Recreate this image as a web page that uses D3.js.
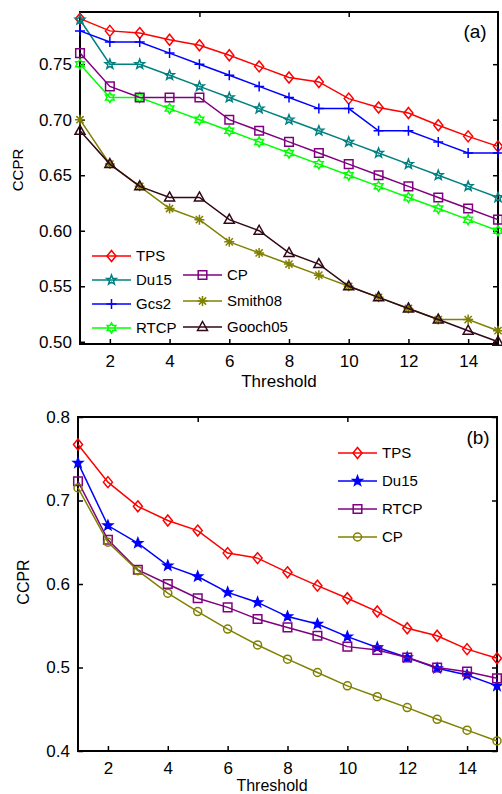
<!DOCTYPE html>
<html>
<head>
<meta charset="utf-8">
<script src="https://cdn.jsdelivr.net/npm/d3@7"></script>
<style>
  body { margin: 0; background: #fff; }
  svg { display: block; font-family: "Liberation Sans", Arial, sans-serif; }
</style>
</head>
<body>
<svg id="chart" width="502" height="794"></svg>
<script>
// threshold values (x) shared by both panels
var thresholds = [1, 2, 3, 4, 5, 6, 7, 8, 9, 10, 11, 12, 13, 14, 15];

// panel (a)
var tpsA     = [0.791, 0.780, 0.778, 0.772, 0.767, 0.758, 0.748, 0.738, 0.734, 0.719, 0.711, 0.706, 0.695, 0.685, 0.676];
var du15A    = [0.79, 0.75, 0.75, 0.74, 0.73, 0.72, 0.71, 0.70, 0.69, 0.68, 0.67, 0.66, 0.65, 0.64, 0.63];
var gcs2A    = [0.78, 0.77, 0.77, 0.76, 0.75, 0.74, 0.73, 0.72, 0.71, 0.71, 0.69, 0.69, 0.68, 0.67, 0.67];
var rtcpA    = [0.75, 0.72, 0.72, 0.71, 0.70, 0.69, 0.68, 0.67, 0.66, 0.65, 0.64, 0.63, 0.62, 0.61, 0.60];
var cpA      = [0.76, 0.73, 0.72, 0.72, 0.72, 0.70, 0.69, 0.68, 0.67, 0.66, 0.65, 0.64, 0.63, 0.62, 0.61];
var smith08A = [0.70, 0.66, 0.64, 0.62, 0.61, 0.59, 0.58, 0.57, 0.56, 0.55, 0.54, 0.53, 0.52, 0.52, 0.51];
var gooch05A = [0.69, 0.66, 0.64, 0.63, 0.63, 0.61, 0.60, 0.58, 0.57, 0.55, 0.54, 0.53, 0.52, 0.51, 0.50];
var yTicksA  = [0.50, 0.55, 0.60, 0.65, 0.70, 0.75];

// panel (b)
var tpsB  = [0.767, 0.722, 0.693, 0.676, 0.664, 0.637, 0.631, 0.614, 0.598, 0.583, 0.567, 0.547, 0.538, 0.522, 0.511];
var du15B = [0.745, 0.670, 0.649, 0.622, 0.609, 0.590, 0.578, 0.561, 0.552, 0.537, 0.524, 0.512, 0.499, 0.491, 0.478];
var rtcpB = [0.723, 0.653, 0.617, 0.600, 0.583, 0.572, 0.558, 0.548, 0.538, 0.525, 0.521, 0.512, 0.500, 0.495, 0.487];
var cpB   = [0.715, 0.650, 0.616, 0.589, 0.567, 0.546, 0.527, 0.510, 0.494, 0.478, 0.465, 0.452, 0.438, 0.425, 0.412];
var yTicksB = [0.4, 0.5, 0.6, 0.7, 0.8];

var xTicks = [2, 4, 6, 8, 10, 12, 14];
var xTopTicks = [5, 10];

var svg = d3.select("#chart");

// marker shapes, MATLAB style
function markerPath(type) {
  var p = d3.path();
  if (type == "diamond") {
    p.moveTo(0, -5.5); p.lineTo(4.5, 0); p.lineTo(0, 5.5); p.lineTo(-4.5, 0); p.closePath();
  } else if (type == "square") {
    p.rect(-4.3, -4.3, 8.6, 8.6);
  } else if (type == "triangle") {
    p.moveTo(0, -5.5); p.lineTo(5, 3.5); p.lineTo(-5, 3.5); p.closePath();
  } else if (type == "circle") {
    p.arc(0, 0, 4, 0, 2 * Math.PI);
  } else if (type == "plus") {
    p.moveTo(-5, 0); p.lineTo(5, 0); p.moveTo(0, -5); p.lineTo(0, 5);
  } else if (type == "asterisk") {
    p.moveTo(-5, 0); p.lineTo(5, 0); p.moveTo(0, -5); p.lineTo(0, 5);
    p.moveTo(-3.6, -3.6); p.lineTo(3.6, 3.6); p.moveTo(-3.6, 3.6); p.lineTo(3.6, -3.6);
  } else if (type == "pentagram" || type == "hexagram") {
    var n = type == "pentagram" ? 5 : 6;
    var ro = 5, ri = type == "pentagram" ? 2.1 : 2.9;
    for (var i = 0; i < 2 * n; i++) {
      var a = -Math.PI / 2 + i * Math.PI / n;
      var r = i % 2 == 0 ? ro : ri;
      if (i == 0) p.moveTo(r * Math.cos(a), r * Math.sin(a));
      else p.lineTo(r * Math.cos(a), r * Math.sin(a));
    }
    p.closePath();
  }
  return p.toString();
}

function drawPanel(cfg) {
  var x = d3.scaleLinear().domain([1, 15]).range([cfg.left, cfg.right]);
  var y = d3.scaleLinear().domain(cfg.yDomain).range([cfg.bottom, cfg.top]);
  var g = svg.append("g");

  // frame
  g.append("rect")
    .attr("x", cfg.left).attr("y", cfg.top)
    .attr("width", cfg.right - cfg.left).attr("height", cfg.bottom - cfg.top)
    .attr("fill", "none").attr("stroke", "#000").attr("stroke-width", 2);

  // bottom axis (inward ticks)
  var xAxis = g.append("g")
    .attr("transform", `translate(0,${cfg.bottom})`)
    .call(d3.axisBottom(x).tickValues(xTicks).tickSize(-5).tickPadding(11).tickFormat(d3.format("d")));
  xAxis.select(".domain").remove();
  xAxis.selectAll("line").attr("stroke-width", 1.5);
  xAxis.selectAll("text").style("font-size", "17px").attr("fill", "#000");

  // left axis (inward ticks)
  var yAxis = g.append("g")
    .attr("transform", `translate(${cfg.left},0)`)
    .call(d3.axisLeft(y).tickValues(cfg.yTicks).tickSize(-5).tickPadding(8).tickFormat(d3.format(cfg.yFormat)));
  yAxis.select(".domain").remove();
  yAxis.selectAll("line").attr("stroke-width", 1.5);
  yAxis.selectAll("text").style("font-size", "17px").attr("fill", "#000");

  // mirrored ticks on top and right
  var topAxis = g.append("g")
    .attr("transform", `translate(0,${cfg.top})`)
    .call(d3.axisTop(x).tickValues(xTopTicks).tickSize(-5).tickFormat(""));
  topAxis.select(".domain").remove();
  topAxis.selectAll("line").attr("stroke-width", 1.5);

  var rightAxis = g.append("g")
    .attr("transform", `translate(${cfg.right},0)`)
    .call(d3.axisRight(y).tickValues(cfg.yTicks).tickSize(-5).tickFormat(""));
  rightAxis.select(".domain").remove();
  rightAxis.selectAll("line").attr("stroke-width", 1.5);

  // axis titles
  g.append("text")
    .attr("x", cfg.xLabelX).attr("y", cfg.xLabelY)
    .attr("text-anchor", "middle")
    .style("font-size", cfg.xLabelSize)
    .text("Threshold");

  g.append("text")
    .attr("transform", `translate(${cfg.yLabelX},${cfg.yLabelY}) rotate(-90)`)
    .attr("text-anchor", "middle")
    .attr("dy", "0.35em")
    .style("font-size", cfg.yLabelSize)
    .text("CCPR");

  g.append("text")
    .attr("x", cfg.tagX).attr("y", cfg.tagY)
    .attr("text-anchor", "middle")
    .style("font-size", "19px")
    .text(cfg.tag);

  var line = d3.line()
    .x((d, i) => x(thresholds[i]))
    .y(d => y(d));

  cfg.series.forEach(s => {
    g.append("path")
      .datum(s.values)
      .attr("d", line)
      .attr("fill", "none")
      .attr("stroke", s.color)
      .attr("stroke-width", 1.5);

    g.selectAll(null)
      .data(s.values)
      .enter().append("path")
        .attr("transform", (d, i) => `translate(${x(thresholds[i])},${y(d)})`)
        .attr("d", markerPath(s.marker))
        .attr("fill", s.filled ? s.color : "none")
        .attr("stroke", s.color)
        .attr("stroke-width", 1.5);
  });

  // legend
  cfg.series.forEach(s => {
    var lg = g.append("g").attr("transform", `translate(${s.lx},${s.ly})`);
    lg.append("line")
      .attr("x1", 0).attr("x2", cfg.legendLen)
      .attr("stroke", s.color).attr("stroke-width", 1.5);
    lg.append("path")
      .attr("transform", `translate(${cfg.legendLen / 2},0)`)
      .attr("d", markerPath(s.marker))
      .attr("fill", s.filled ? s.color : "none")
      .attr("stroke", s.color).attr("stroke-width", 1.5);
    lg.append("text")
      .attr("x", cfg.legendLen + 5).attr("dy", "0.35em")
      .style("font-size", "15px")
      .text(s.name);
  });
}

drawPanel({
  left: 80, right: 498, top: 12, bottom: 344,
  yDomain: [0.498, 0.797], yTicks: yTicksA, yFormat: ".2f",
  xLabelX: 279, xLabelY: 387, xLabelSize: "17px",
  yLabelX: 18, yLabelY: 170, yLabelSize: "15px",
  tag: "(a)", tagX: 475, tagY: 38,
  legendLen: 39,
  series: [
    { name: "TPS",     values: tpsA,     color: "#ff0000", marker: "diamond",   lx: 92,  ly: 256 },
    { name: "Du15",    values: du15A,    color: "#008080", marker: "pentagram", lx: 92,  ly: 280 },
    { name: "Gcs2",    values: gcs2A,    color: "#0000ff", marker: "plus",      lx: 92,  ly: 304 },
    { name: "RTCP",    values: rtcpA,    color: "#00ff00", marker: "hexagram",  lx: 92,  ly: 328 },
    { name: "CP",      values: cpA,      color: "#800080", marker: "square",    lx: 183, ly: 275 },
    { name: "Smith08", values: smith08A, color: "#808000", marker: "asterisk",  lx: 183, ly: 301 },
    { name: "Gooch05", values: gooch05A, color: "#300818", marker: "triangle",  lx: 183, ly: 327 }
  ]
});

drawPanel({
  left: 78, right: 497, top: 417, bottom: 751,
  yDomain: [0.4, 0.8], yTicks: yTicksB, yFormat: ".1f",
  xLabelX: 272, xLabelY: 791, xLabelSize: "16px",
  yLabelX: 23, yLabelY: 582, yLabelSize: "16px",
  tag: "(b)", tagX: 478, tagY: 444,
  legendLen: 39,
  series: [
    { name: "TPS",  values: tpsB,  color: "#ff0000", marker: "diamond",   lx: 338, ly: 453 },
    { name: "Du15", values: du15B, color: "#0000ff", marker: "pentagram", lx: 338, ly: 481, filled: true },
    { name: "RTCP", values: rtcpB, color: "#800080", marker: "square",    lx: 338, ly: 509 },
    { name: "CP",   values: cpB,   color: "#808000", marker: "circle",    lx: 338, ly: 537 }
  ]
});
</script>
</body>
</html>
